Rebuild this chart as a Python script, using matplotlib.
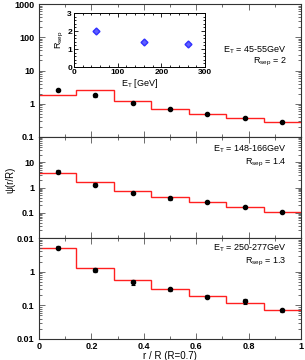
import numpy as np
import matplotlib
matplotlib.use("Agg")
import matplotlib.pyplot as plt
from matplotlib.ticker import LogLocator, NullFormatter, FixedLocator, MultipleLocator

plt.rcParams['font.family'] = ['Liberation Sans', 'DejaVu Sans']

edges = [0, 1/7, 2/7, 3/7, 4/7, 5/7, 6/7, 1.0]
centers = [(edges[i] + edges[i+1]) / 2 for i in range(7)]

# panel 1: ET 45-55 GeV
data1 = [2.6, 1.78, 1.05, 0.71, 0.50, 0.37, 0.28]
err1 = [0.25, 0.15, 0.09, 0.05, 0.03, 0.025, 0.02]
theo1 = [1.86, 2.6, 1.17, 0.69, 0.49, 0.37, 0.28]
# panel 2: ET 148-166 GeV
data2 = [4.3, 1.3, 0.60, 0.37, 0.26, 0.17, 0.11]
err2 = [0.5, 0.15, 0.07, 0.04, 0.025, 0.02, 0.012]
theo2 = [3.9, 1.6, 0.74, 0.42, 0.26, 0.17, 0.11]
# panel 3: ET 250-277 GeV
data3 = [5.2, 1.12, 0.48, 0.30, 0.18, 0.13, 0.071]
err3 = [0.6, 0.15, 0.07, 0.03, 0.02, 0.02, 0.008]
theo3 = [4.9, 1.29, 0.56, 0.30, 0.19, 0.12, 0.074]

labels_et = ["45-55GeV", "148-166GeV", "250-277GeV"]
labels_rsep = ["2", "1.4", "1.3"]
xtick_vals = [0, 0.2, 0.4, 0.6, 0.8, 1.0]
xtick_labels = ["0", "0.2", "0.4", "0.6", "0.8", "1"]

# inset
inset_et = [50, 160, 260]
inset_rsep = [2.0, 1.4, 1.3]
inset_err = [0.1, 0.1, 0.1]

fig = plt.figure(figsize=(3.05, 3.6), dpi=100)
L, W = 39/305, 262/305
pos = [
    (L, (360-137)/360, W, 133/360),
    (L, (360-238)/360, W, 101/360),
    (L, (360-339)/360, W, 101/360),
]
ylims = [(0.1, 1000), (0.01, 100), (0.01, 10)]
yticks = [[0.1, 1, 10, 100, 1000], [0.01, 0.1, 1, 10], [0.01, 0.1, 1]]
ytl = [["0.1", "1", "10", "100", "1000"], ["0.01", "0.1", "1", "10"], ["0.01", "0.1", "1"]]
datas = [(data1, err1, theo1), (data2, err2, theo2), (data3, err3, theo3)]
et_y = [0.654, 0.88, 0.90]
rs_y = [0.564, 0.74, 0.76]

fs = 6.5
for i, p in enumerate(pos):
    ax = fig.add_axes(p)
    d, e, t = datas[i]
    ax.stairs(t, edges, color='#ff2020', lw=1.0, baseline=None)
    ax.errorbar(centers, d, yerr=e, fmt='o', color='black', ms=3.0, capsize=1.5, elinewidth=0.8, capthick=0.8)
    ax.set_yscale('log')
    ax.set_ylim(*ylims[i])
    ax.set_xlim(0, 1)
    ax.yaxis.set_major_locator(FixedLocator(yticks[i]))
    ax.set_yticklabels(ytl[i], fontsize=fs, fontweight='bold')
    ax.yaxis.set_minor_locator(LogLocator(base=10, subs=np.arange(2, 10), numticks=20))
    ax.yaxis.set_minor_formatter(NullFormatter())
    ax.xaxis.set_major_locator(FixedLocator(xtick_vals))
    ax.xaxis.set_minor_locator(MultipleLocator(0.1))
    ax.tick_params(which='both', direction='in', top=True, right=True, width=0.6, color='#555555')
    ax.tick_params(which='major', length=4)
    ax.tick_params(which='minor', length=2)
    ax.tick_params(axis='x', pad=2)
    for s in ax.spines.values():
        s.set_linewidth(0.8)
        s.set_color('#333333')
    if i < 2:
        ax.set_xticklabels([])
    else:
        ax.set_xticklabels(xtick_labels, fontsize=fs, fontweight='bold')
        ax.set_xlabel("r / R (R=0.7)", fontsize=fs+0.5, labelpad=0)
    ax.text(0.945, et_y[i], "E$_\\mathregular{T}$ = " + labels_et[i], transform=ax.transAxes,
            ha='right', va='center', fontsize=fs)
    ax.text(0.945, rs_y[i], "R$_\\mathregular{sep}$ = " + labels_rsep[i], transform=ax.transAxes,
            ha='right', va='center', fontsize=fs)

fig.text(0.033, 0.5, "ψ(r/R)", rotation=90, ha='center', va='center', fontsize=fs+0.5)

ins = fig.add_axes((74/305, (360-67)/360, 131/305, 54/360))
ins.errorbar(inset_et, inset_rsep, yerr=inset_err, xerr=[6, 6, 6], fmt='D', color='#3030ff',
             mfc='#6060ff', ms=3.5, elinewidth=0.8, capsize=0)
ins.set_xlim(0, 300)
ins.set_ylim(0, 3)
ins.xaxis.set_major_locator(MultipleLocator(100))
ins.xaxis.set_minor_locator(MultipleLocator(20))
ins.yaxis.set_major_locator(MultipleLocator(1))
ins.yaxis.set_minor_locator(MultipleLocator(0.2))
ins.tick_params(which='both', direction='in', top=True, right=True, labelsize=fs-0.5, pad=1.5, width=0.6)
ins.tick_params(which='major', length=3)
ins.tick_params(which='minor', length=1.5)
for lab in ins.get_xticklabels() + ins.get_yticklabels():
    lab.set_fontweight('bold')
ins.set_xlabel("E$_\\mathregular{T}$ [GeV]", fontsize=fs, labelpad=1)
ins.set_ylabel("R$_\\mathregular{sep}$", fontsize=fs, labelpad=1)
for s in ins.spines.values():
    s.set_linewidth(0.7)

fig.savefig("out.png", dpi=100)
